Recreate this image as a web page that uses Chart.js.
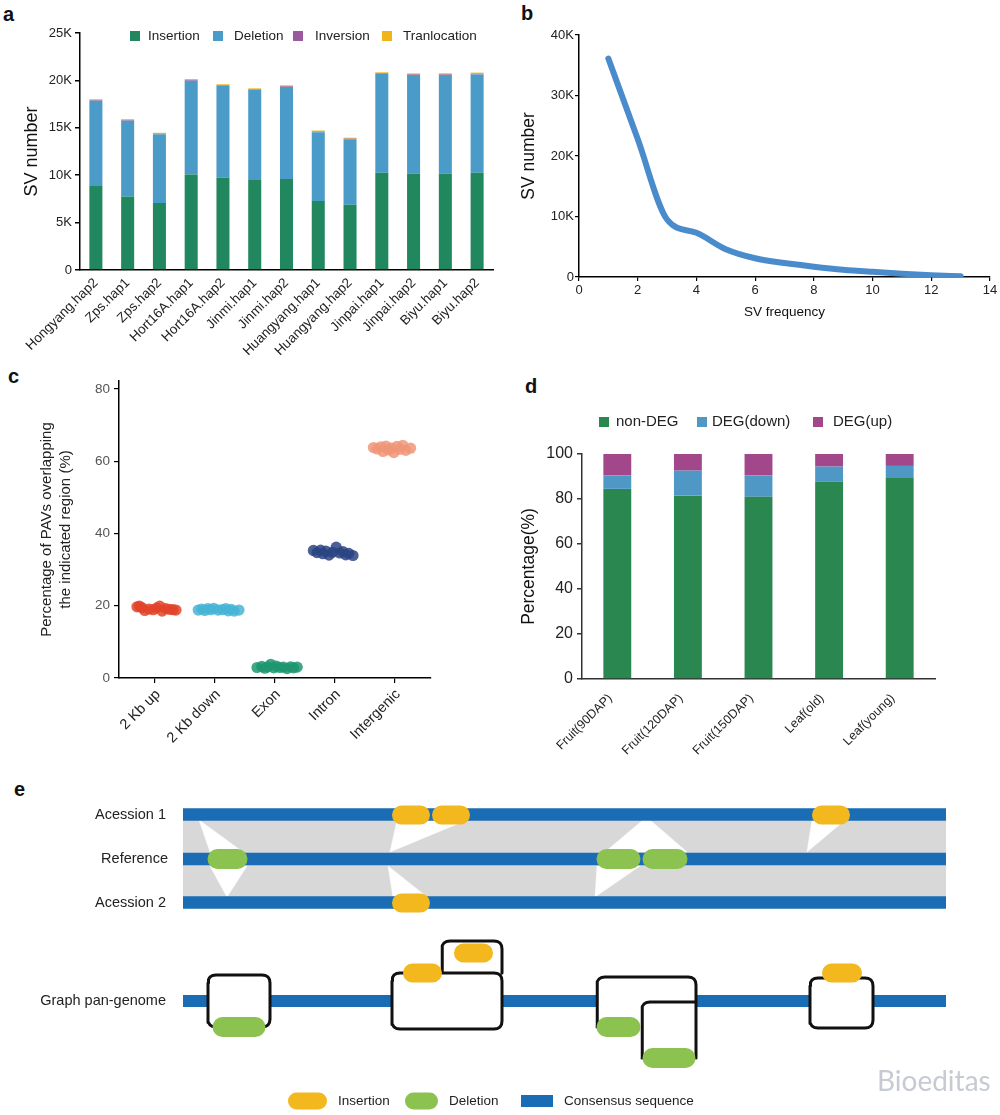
<!DOCTYPE html>
<html><head><meta charset="utf-8">
<script src="https://cdn.jsdelivr.net/npm/chart.js@4.4.1/dist/chart.umd.min.js"></script>
<style>
html,body{margin:0;padding:0;background:#fff;}
body{width:1000px;height:1115px;position:relative;overflow:hidden;font-family:'Liberation Sans',Arial,sans-serif;}
canvas{position:absolute;}
.lt{position:absolute;font-weight:bold;font-size:20px;line-height:20px;color:#111;font-family:'Liberation Sans',Arial,sans-serif;}
.wm{position:absolute;font-family:Lato,'Open Sans',sans-serif;font-size:28px;line-height:28px;color:#c6cbd3;left:877px;top:1066px;}
</style></head><body>
<div class="lt" style="left:3px;top:4px">a</div>
<div class="lt" style="left:521px;top:3px">b</div>
<div class="lt" style="left:8px;top:366px">c</div>
<div class="lt" style="left:525px;top:376px">d</div>
<div class="lt" style="left:14px;top:779px">e</div>
<canvas id="ca" width="500" height="365" style="left:0;top:0"></canvas>
<canvas id="cb" width="500" height="330" style="left:500px;top:0"></canvas>
<canvas id="cc" width="500" height="430" style="left:0;top:330px"></canvas>
<canvas id="cd" width="500" height="430" style="left:500px;top:330px"></canvas>
<canvas id="ce" width="1000" height="335" style="left:0;top:780px"></canvas>
<div class="wm">Bioeditas</div>
<script>
// ---------------- DATA ----------------
// Panel a
const aCategories = ['Hongyang.hap2','Zps.hap1','Zps.hap2','Hort16A.hap1','Hort16A.hap2','Jinmi.hap1','Jinmi.hap2','Huangyang.hap1','Huangyang.hap2','Jinpai.hap1','Jinpai.hap2','Biyu.hap1','Biyu.hap2'];
const aInsertion    = [8870,7750,7080,10070,9720,9500,9600,7290,6870,10250,10180,10180,10250];
const aDeletion     = [8980,7990,7250,9890,9680,9500,9700,7250,6930,10420,10380,10380,10380];
const aInversion    = [60,60,55,70,70,60,70,60,55,70,70,70,70];
const aTranlocation = [100,110,90,110,120,100,110,110,100,110,110,120,120];
const aYTicks = [0,5000,10000,15000,20000,25000];

// Panel b
const bFrequency = [1,2,3,4,5,6,7,8,9,10,11,12,13];
const bSVNumber  = [36100,22800,9500,7300,4600,3100,2300,1700,1200,850,550,300,120];
const bYTicks = [0,10000,20000,30000,40000];
const bXTicks = [0,2,4,6,8,10,12,14];

// Panel c
const cCategories = ['2 Kb up','2 Kb down','Exon','Intron','Intergenic'];
const cUpX = [0.70,0.74,0.78,0.83,0.90,0.97,1.03,1.08,1.12,1.18,1.24,1.30,1.35];
const cUpY = [19.7,19.9,19.5,18.7,19.1,18.9,19.4,19.9,18.5,19.2,19.0,18.9,18.8];
const cDownX = [1.72,1.78,1.83,1.88,1.93,1.98,2.05,2.12,2.18,2.22,2.27,2.32,2.40];
const cDownY = [18.8,19.1,18.7,19.2,18.9,19.3,18.8,18.9,19.2,18.6,19.0,18.5,18.8];
const cExonX = [2.70,2.78,2.83,2.88,2.93,2.98,3.02,3.08,3.14,3.20,3.26,3.31,3.37];
const cExonY = [2.9,3.2,2.7,3.1,3.8,2.8,3.3,2.9,3.0,2.6,3.1,2.8,3.0];
const cIntronX = [3.64,3.70,3.76,3.80,3.85,3.90,3.96,4.02,4.08,4.13,4.18,4.23,4.30];
const cIntronY = [35.3,34.7,35.4,34.4,35.1,34.0,34.8,36.2,34.6,35.0,34.1,34.5,33.9];
const cInterX = [4.64,4.70,4.76,4.80,4.85,4.89,4.94,4.98,5.03,5.08,5.13,5.18,5.26];
const cInterY = [63.8,63.4,64.0,62.7,64.2,63.1,63.6,62.4,64.1,63.3,64.4,63.0,63.6];
const cYTicks = [0,20,40,60,80];
const cXTicks = [1,2,3,4,5];

// Panel d
const dCategories = ['Fruit(90DAP)','Fruit(120DAP)','Fruit(150DAP)','Leaf(old)','Leaf(young)'];
const dNonDEG  = [84.5,81.5,81.0,87.6,89.3];
const dDEGdown = [6.0,11.1,9.5,6.8,5.4];
const dDEGup   = [9.5,7.4,9.5,5.6,5.3];
const dYTicks = [0,20,40,60,80,100];

// Panel e (schematic coordinates)
const eTracks = ['Acession 1','Reference','Acession 2','Graph pan-genome'];
const eTrackY = [814.5, 859, 902.5, 1001];
const eTrackSpan = [183, 946];
const eGraphSegments = [[183,208],[270,392],[502,597],[696,810],[873,946]];
const eBand = [[183,814.5],[946,814.5],[946,902.5],[183,902.5]];
const eGaps = [
  [[199,820],[243,852],[210,852]],
  [[210,866],[247,866],[227,897]],
  [[397,820],[467,820],[390,852]],
  [[388,866],[393,897],[427,897]],
  [[643,820],[650,820],[687,852],[605,852]],
  [[597,866],[640,866],[595,897]],
  [[812,820],[845,820],[807,852]]
];
const eInsertions = [[392,430,815],[432,470,815],[812,850,815],[392,430,903],[403,442,973],[454,493,953],[822,862,973]];
const eDeletions  = [[208,247,859],[597,640,859],[643,687,859],[213,265,1027],[597,640,1027],[643,695,1058]];
const eNodesClosed = [
  [[208,975],[270,975],[270,1027],[208,1027]],
  [[392,973],[502,973],[502,1029],[392,1029]],
  [[810,978],[873,978],[873,1028],[810,1028]]
];
const eNodesOpen = [
  [[442,973],[442,941],[502,941],[502,973]],
  [[597,1027],[597,977],[696,977],[696,1058]],
  [[642,1058],[642,1002],[696,1002]]
];
const eLegendLabels = ['Insertion','Deletion','Consensus sequence'];
const eLegendKeys = [[288,327],[405,438],[521,553]];
const eLegendTextX = [338,449,564];
const eLegendY = 1101;

// ---------------- SETUP ----------------
const FONT = "'Liberation Sans', Arial, Helvetica, sans-serif";
Chart.defaults.font.family = FONT;
Chart.defaults.color = '#222';
Chart.defaults.animation = false;
Chart.defaults.responsive = false;
Chart.defaults.plugins.legend.display = false;
Chart.defaults.plugins.tooltip.enabled = false;
const kLabel = v => v === 0 ? '0' : (v/1000) + 'K';

const pinLegend = {
  id: 'pinLegend',
  afterDraw(chart, args, opts) {
    if (!opts || !opts.items) return;
    const ctx = chart.ctx;
    ctx.save();
    ctx.font = opts.font;
    ctx.textBaseline = 'middle';
    chart.data.datasets.forEach((ds, i) => {
      const it = opts.items[i];
      ctx.fillStyle = ds.backgroundColor;
      ctx.fillRect(it[0] - opts.size/2, opts.y - opts.size/2, opts.size, opts.size);
      ctx.fillStyle = opts.color;
      ctx.fillText(ds.label, it[1], opts.y);
    });
    ctx.restore();
  }
};

// ---------------- PANEL A ----------------
new Chart(document.getElementById('ca'), {
  type: 'bar',
  data: { labels: aCategories, datasets: [
    {label:'Insertion', data:aInsertion, backgroundColor:'#21875f'},
    {label:'Deletion', data:aDeletion, backgroundColor:'#4b9bc9'},
    {label:'Inversion', data:aInversion, backgroundColor:'#9b5a9e'},
    {label:'Tranlocation', data:aTranlocation, backgroundColor:'#f1b51c'}
  ]},
  options: {
    layout:{padding:{top:33,right:7,left:0,bottom:0}},
    datasets:{bar:{barPercentage:0.41, categoryPercentage:1}},
    plugins:{pinLegend:{font:"13.5px "+FONT, color:'#222', size:10, y:36, items:[[135,148],[218,234],[298,315],[387,403]]}},
    scales:{
      x:{stacked:true, grid:{display:false, drawTicks:false}, border:{color:'#000', width:1.5},
         ticks:{color:'#222', font:{size:13.5}, minRotation:45, maxRotation:45, autoSkip:false, padding:5},
         afterFit:s=>{s.height=95;}},
      y:{stacked:true, min:0, max:25000,
         afterBuildTicks:s=>{s.ticks = aYTicks.map(v=>({value:v}));},
         ticks:{callback:kLabel, color:'#222', font:{size:13}, padding:3},
         grid:{drawOnChartArea:false, tickLength:5, color:'#000', lineWidth:1.5},
         border:{color:'#000', width:1.5},
         title:{display:true, text:'SV number', font:{size:18}, color:'#111', padding:{top:21,bottom:0}},
         afterFit:s=>{s.width=80;}}
    }
  },
  plugins:[pinLegend]
});

// ---------------- PANEL B ----------------
new Chart(document.getElementById('cb'), {
  type: 'scatter',
  data: { datasets: [{
    label:'SV number',
    data: bFrequency.map((f,i)=>({x:f, y:bSVNumber[i]})),
    showLine:true, borderColor:'#4a8ccb', borderWidth:6, pointRadius:0,
    cubicInterpolationMode:'monotone', borderCapStyle:'round', borderJoinStyle:'round'
  }]},
  options: {
    layout:{padding:{top:35,right:10,left:0,bottom:0}},
    scales:{
      x:{type:'linear', min:0, max:14,
         afterBuildTicks:s=>{s.ticks = bXTicks.map(v=>({value:v}));},
         ticks:{color:'#222', font:{size:13}, padding:2},
         grid:{drawOnChartArea:false, tickLength:4, color:'#000', lineWidth:1.2},
         border:{color:'#000', width:1.5},
         title:{display:true, text:'SV frequency', font:{size:13.5}, color:'#111', padding:{top:0,bottom:10}},
         afterFit:s=>{s.height=53;}},
      y:{min:0, max:40000,
         afterBuildTicks:s=>{s.ticks = bYTicks.map(v=>({value:v}));},
         ticks:{callback:kLabel, color:'#222', font:{size:13}, padding:1},
         grid:{drawOnChartArea:false, tickLength:4, color:'#000', lineWidth:1.2},
         border:{color:'#000', width:1.5},
         title:{display:true, text:'SV number', font:{size:17.5}, color:'#111', padding:{top:19,bottom:0}},
         afterFit:s=>{s.width=79;}}
    }
  }
});

// ---------------- PANEL C ----------------
const cGroups = [
  [cUpX, cUpY, 'rgba(226,68,44,0.85)'],
  [cDownX, cDownY, 'rgba(72,180,214,0.85)'],
  [cExonX, cExonY, 'rgba(30,150,112,0.85)'],
  [cIntronX, cIntronY, 'rgba(44,68,130,0.85)'],
  [cInterX, cInterY, 'rgba(240,150,120,0.85)']
];
new Chart(document.getElementById('cc'), {
  type: 'scatter',
  data: { datasets: cGroups.map((g, k) => ({
    label: cCategories[k],
    data: g[0].map((x,i)=>({x:x, y:g[1][i]})),
    backgroundColor: g[2], borderColor: g[2], borderWidth:0, pointRadius:5.6
  }))},
  options: {
    layout:{padding:{top:51,right:69,left:0,bottom:0}},
    scales:{
      x:{type:'linear', min:0.4, max:5.6,
         afterBuildTicks:s=>{s.ticks = cXTicks.map(v=>({value:v}));},
         ticks:{callback:v=>cCategories[v-1], color:'#222', font:{size:14.5}, minRotation:45, maxRotation:45, autoSkip:false, padding:3, labelOffset:3},
         grid:{drawOnChartArea:false, tickLength:5, color:'#000', lineWidth:1.2},
         border:{color:'#000', width:1.5},
         afterFit:s=>{s.height=82;}},
      y:{min:0, max:82.2,
         afterBuildTicks:s=>{s.ticks = cYTicks.map(v=>({value:v}));},
         ticks:{color:'#555', font:{size:13.5}, padding:4},
         grid:{drawOnChartArea:false, tickLength:5, color:'#000', lineWidth:1.2},
         border:{color:'#000', width:1.5},
         title:{display:true, text:['Percentage of PAVs overlapping','the indicated region (%)'], font:{size:15, lineHeight:1.3}, color:'#222', padding:{top:37,bottom:0}},
         afterFit:s=>{s.width=119;}}
    }
  }
});

// ---------------- PANEL D ----------------
new Chart(document.getElementById('cd'), {
  type: 'bar',
  data: { labels: dCategories, datasets: [
    {label:'non-DEG', data:dNonDEG, backgroundColor:'#29874f'},
    {label:'DEG(down)', data:dDEGdown, backgroundColor:'#4f97c5'},
    {label:'DEG(up)', data:dDEGup, backgroundColor:'#a3478b'}
  ]},
  options: {
    layout:{padding:{top:124,right:65,left:0,bottom:0}},
    datasets:{bar:{barPercentage:0.395, categoryPercentage:1}},
    plugins:{pinLegend:{font:"15px "+FONT, color:'#222', size:10, y:92, items:[[104,116],[202,212],[318,333]]}},
    scales:{
      x:{stacked:true, grid:{display:false, drawTicks:false}, border:{color:'#333', width:1.5},
         ticks:{color:'#222', font:{size:12.5}, minRotation:45, maxRotation:45, autoSkip:false, padding:12, labelOffset:-7},
         afterFit:s=>{s.height=81;}},
      y:{stacked:true, min:0, max:100,
         afterBuildTicks:s=>{s.ticks = dYTicks.map(v=>({value:v}));},
         ticks:{color:'#222', font:{size:16}, padding:4},
         grid:{drawOnChartArea:false, tickLength:5, color:'#333', lineWidth:1.5},
         border:{color:'#333', width:1.5},
         title:{display:true, text:'Percentage(%)', font:{size:17.5}, color:'#111', padding:{top:19,bottom:0}},
         afterFit:s=>{s.width=82;}}
    }
  },
  plugins:[pinLegend]
});

// ---------------- PANEL E ----------------
function joinPaths(list) {
  const out = [];
  list.forEach((pl, i) => {
    if (i) out.push({x: pl[0][0], y: null});
    pl.forEach(p => out.push({x: p[0], y: p[1]}));
  });
  return out;
}
function rounded(pts, r, closed) {
  const out = [];
  const n = pts.length;
  for (let i = 0; i < n; i++) {
    const p = pts[i];
    if (!closed && (i === 0 || i === n-1)) { out.push(p); continue; }
    const a = pts[(i-1+n)%n], b = pts[(i+1)%n];
    const da = Math.hypot(a[0]-p[0], a[1]-p[1]), db = Math.hypot(b[0]-p[0], b[1]-p[1]);
    const p1 = [p[0]+(a[0]-p[0])*r/da, p[1]+(a[1]-p[1])*r/da];
    const p2 = [p[0]+(b[0]-p[0])*r/db, p[1]+(b[1]-p[1])*r/db];
    for (let t = 0; t <= 1.0001; t += 0.25) {
      const u = 1-t;
      out.push([u*u*p1[0]+2*u*t*p[0]+t*t*p2[0], u*u*p1[1]+2*u*t*p[1]+t*t*p2[1]]);
    }
  }
  if (closed) out.push(out[0]);
  return out;
}
const PILL = 19;
const pillPaths = list => list.map(s => [[s[0]+PILL/2, s[2]], [s[1]-PILL/2, s[2]]]);

const eDatasets = [];
// grey alignment band
eDatasets.push({data: joinPaths([eBand.concat([eBand[0]])]), showLine:true, fill:'shape', backgroundColor:'#d8d8d8', borderWidth:0, pointRadius:0, order:10, clip:false});
// white gaps
eGaps.forEach(g => eDatasets.push({data: joinPaths([g.concat([g[0]])]), showLine:true, fill:'shape', backgroundColor:'#ffffff', borderColor:'#ffffff', borderWidth:0.5, pointRadius:0, order:9, clip:false}));
// consensus tracks
eDatasets.push({data: joinPaths(eTrackY.slice(0,3).map(y => [[eTrackSpan[0], y],[eTrackSpan[1], y]])), showLine:true, borderColor:'#1a6cb4', borderWidth:12.5, borderCapStyle:'butt', pointRadius:0, order:8, clip:false});
eDatasets.push({data: joinPaths(eGraphSegments.map(s => [[s[0], eTrackY[3]],[s[1], eTrackY[3]]])), showLine:true, borderColor:'#1a6cb4', borderWidth:12, borderCapStyle:'butt', pointRadius:0, order:8, clip:false});
// node outlines
eDatasets.push({data: joinPaths(eNodesClosed.map(p => rounded(p, 8, true)).concat(eNodesOpen.map(p => rounded(p, 8, false)))), showLine:true, borderColor:'#111', borderWidth:3, borderJoinStyle:'round', borderCapStyle:'round', pointRadius:0, order:7, clip:false});
// insertions / deletions
eDatasets.push({data: joinPaths(pillPaths(eInsertions)), showLine:true, borderColor:'#f2b81e', borderWidth:PILL, borderCapStyle:'round', pointRadius:0, order:6, clip:false});
eDatasets.push({data: joinPaths(pillPaths(eDeletions)), showLine:true, borderColor:'#8cc24f', borderWidth:PILL+1, borderCapStyle:'round', pointRadius:0, order:6, clip:false});
// legend keys
eDatasets.push({data: joinPaths([[[eLegendKeys[0][0]+8.5, eLegendY],[eLegendKeys[0][1]-8.5, eLegendY]]]), showLine:true, borderColor:'#f2b81e', borderWidth:17, borderCapStyle:'round', pointRadius:0, order:5, clip:false});
eDatasets.push({data: joinPaths([[[eLegendKeys[1][0]+8.5, eLegendY],[eLegendKeys[1][1]-8.5, eLegendY]]]), showLine:true, borderColor:'#8cc24f', borderWidth:17, borderCapStyle:'round', pointRadius:0, order:5, clip:false});
eDatasets.push({data: joinPaths([[[eLegendKeys[2][0], eLegendY],[eLegendKeys[2][1], eLegendY]]]), showLine:true, borderColor:'#1a6cb4', borderWidth:12, borderCapStyle:'butt', pointRadius:0, order:5, clip:false});

const eLabels = {
  id:'eLabels',
  afterDatasetsDraw(chart) {
    const {ctx, scales:{x, y}} = chart;
    ctx.save();
    ctx.fillStyle = '#222';
    ctx.textBaseline = 'middle';
    ctx.font = "14.5px " + FONT;
    ctx.textAlign = 'right';
    eTracks.forEach((t, i) => ctx.fillText(t, x.getPixelForValue(i === 1 ? 168 : 166), y.getPixelForValue(eTrackY[i])));
    ctx.textAlign = 'left';
    ctx.font = "13.5px " + FONT;
    eLegendLabels.forEach((t, i) => ctx.fillText(t, x.getPixelForValue(eLegendTextX[i]), y.getPixelForValue(eLegendY)));
    ctx.restore();
  }
};
new Chart(document.getElementById('ce'), {
  type: 'scatter',
  data: {datasets: eDatasets},
  options: {
    layout:{padding:0},
    elements:{line:{tension:0}},
    scales:{
      x:{type:'linear', min:0, max:1000, display:false},
      y:{type:'linear', min:780, max:1115, reverse:true, display:false}
    }
  },
  plugins:[eLabels]
});
</script>
</body></html>
